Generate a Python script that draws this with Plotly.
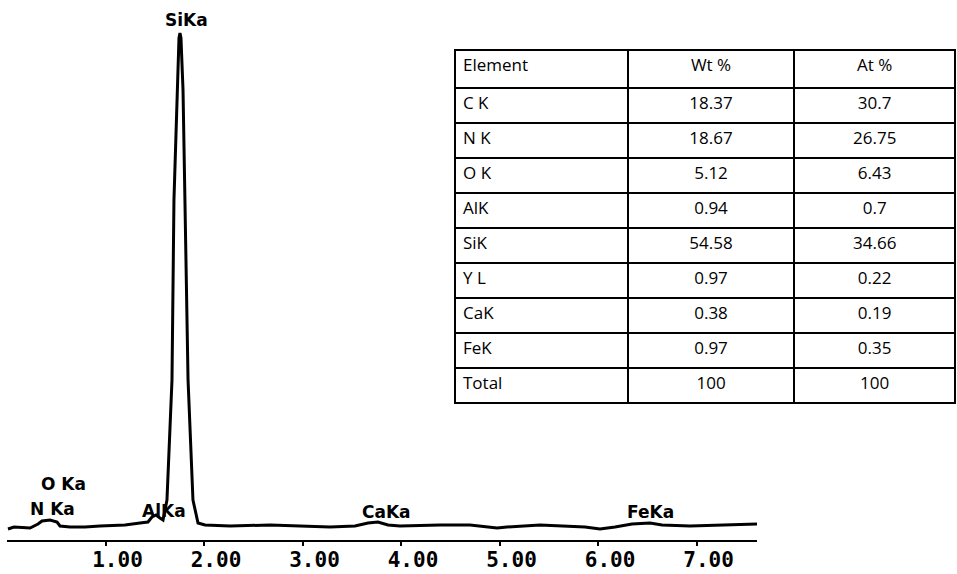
import plotly.graph_objects as go

# Spectrum (energy in keV, counts)
energy = [0.010, 0.071, 0.234, 0.315, 0.355, 0.437, 0.508, 0.538, 0.640, 0.792,
          0.944, 1.198, 1.350, 1.431, 1.472, 1.513, 1.553, 1.584, 1.624, 1.675,
          1.695, 1.726, 1.746, 1.756, 1.766, 1.787, 1.807, 1.838, 1.888, 1.939,
          2.010, 2.264, 2.670, 2.975, 3.279, 3.533, 3.665, 3.766, 3.868, 3.990,
          4.396, 4.701, 4.975, 5.076, 5.411, 5.868, 6.020, 6.173, 6.345, 6.528,
          6.650, 6.934, 7.239, 7.442, 7.614]
counts = [110, 130, 120, 160, 190, 200, 180, 140, 130, 130,
          140, 150, 170, 180, 230, 250, 220, 200, 400, 1600,
          3400, 4500, 5020, 5070, 5020, 4500, 3400, 1600, 400, 170,
          150, 140, 150, 140, 130, 140, 170, 180, 150, 140,
          150, 150, 120, 130, 150, 130, 110, 130, 160, 170,
          150, 140, 150, 160, 160]

tick_vals = [1, 2, 3, 4, 5, 6, 7]
tick_text = ["1.00", "2.00", "3.00", "4.00", "5.00", "6.00", "7.00"]

peak_labels = ["SiKa", "O Ka", "N Ka", "AlKa", "CaKa", "FeKa"]
peak_label_x = [1.827, 0.569, 0.457, 1.594, 3.848, 6.528]
peak_label_y = [5200, 560, 310, 290, 280, 280]

# Table
elements = ["C K", "N K", "O K", "AlK", "SiK", "Y L", "CaK", "FeK", "Total"]
wt_pct = ["18.37", "18.67", "5.12", "0.94", "54.58", "0.97", "0.38", "0.97", "100"]
at_pct = ["30.7", "26.75", "6.43", "0.7", "34.66", "0.22", "0.19", "0.35", "100"]
table_header = ["Element", "Wt %", "At %"]

fig = go.Figure()

fig.add_trace(go.Scatter(
    x=energy, y=counts, mode="lines",
    line=dict(color="black", width=3), showlegend=False,
    xaxis="x", yaxis="y", cliponaxis=False,
))

fig.add_trace(go.Table(
    domain=dict(x=[(455 - 7) / 948, 1.0], y=[0.25, (540 - 50) / 520]),
    columnwidth=[172, 166, 160],
    header=dict(
        values=table_header,
        align=["left", "center", "center"],
        font=dict(family="Open Sans", size=17, color="black"),
        line=dict(color="black", width=2),
        fill=dict(color="white"),
        height=38,
    ),
    cells=dict(
        values=[elements, wt_pct, at_pct],
        align=["left", "center", "center"],
        font=dict(family="Open Sans", size=17, color="black"),
        line=dict(color="black", width=2),
        fill=dict(color="white"),
        height=35,
    ),
))

for t, x, y in zip(peak_labels, peak_label_x, peak_label_y):
    fig.add_annotation(
        x=x, y=y, xref="x", yref="y", text=t, showarrow=False,
        font=dict(family="DejaVu Sans", size=17, color="black", weight="bold"),
    )

fig.update_layout(
    width=957, height=574,
    margin=dict(l=7, r=2, t=20, b=34, pad=0, autoexpand=False),
    paper_bgcolor="white", plot_bgcolor="white",
    xaxis=dict(
        domain=[0, 750 / 948], range=[0, 7.614],
        showgrid=False, zeroline=False, showline=True, automargin=False,
        linecolor="black", linewidth=2,
        ticks="outside", ticklen=4, tickwidth=2, tickcolor="black",
        tickvals=tick_vals, ticktext=tick_text,
        tickfont=dict(family="DejaVu Sans Mono", size=21, color="black", weight="bold"),
        ticklabelshift=12, ticklabelstandoff=-4,
    ),
    yaxis=dict(visible=False, range=[0, 5200], automargin=False),
)

fig.write_html(
    "out.html",
    config={"displayModeBar": False},
    post_script="document.body.style.margin='0';document.body.style.overflow='hidden';",
)
